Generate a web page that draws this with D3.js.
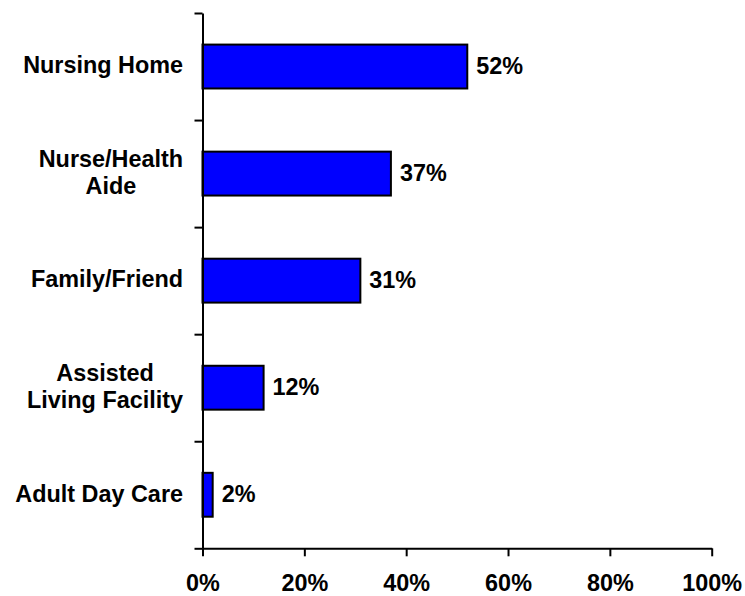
<!DOCTYPE html>
<html>
<head>
<meta charset="utf-8">
<script src="https://cdn.jsdelivr.net/npm/d3@7"></script>
<style>
  html, body { margin: 0; padding: 0; background: #fff; }
  svg { display: block; }
  text { font-family: "Liberation Sans", Arial, Helvetica, sans-serif; font-weight: bold; fill: #000; }
</style>
</head>
<body>
<svg id="chart" width="745" height="596"></svg>
<script>
// Care options, top to bottom
const categories = [
  ["Nursing Home"],
  ["Nurse/Health", "Aide"],
  ["Family/Friend"],
  ["Assisted", "Living Facility"],
  ["Adult Day Care"]
];
const values = [0.52, 0.37, 0.31, 0.12, 0.02];
const xTicks = [0, 0.2, 0.4, 0.6, 0.8, 1.0];

const W = 745, H = 596;
const margin = { top: 13, right: 33.3, bottom: 47.7, left: 202.5 };
const innerW = W - margin.left - margin.right;
const innerH = H - margin.top - margin.bottom;
const fontSize = 23.4;
const lineH = 26.7;

const svg = d3.select("#chart");
const g = svg.append("g").attr("transform", `translate(${margin.left},${margin.top})`);

const ids = d3.range(categories.length);
const x = d3.scaleLinear().domain([0, 1]).range([0, innerW]);
const y = d3.scaleBand().domain(ids).range([0, innerH]).paddingInner(0.59).paddingOuter(0.295);
const yEdge = d3.scaleLinear().domain([0, categories.length]).range([0, innerH]);

// Bars
g.selectAll("rect.bar")
  .data(ids)
  .join("rect")
  .attr("class", "bar")
  .attr("x", 0)
  .attr("y", i => y(i))
  .attr("width", i => x(values[i]))
  .attr("height", y.bandwidth())
  .attr("fill", "#0000ff")
  .attr("stroke", "#000")
  .attr("stroke-width", 2);

// Value labels
g.selectAll("text.val")
  .data(ids)
  .join("text")
  .attr("class", "val")
  .attr("x", i => x(values[i]) + 9)
  .attr("y", i => y(i) + y.bandwidth() / 2 + 7.2)
  .style("font-size", fontSize + "px")
  .text(i => d3.format(".0%")(values[i]));

// Y axis with ticks at band boundaries
const yAxis = g.append("g")
  .call(d3.axisLeft(yEdge).tickValues(d3.range(categories.length + 1)).tickFormat("").tickSize(8).tickSizeOuter(0));
yAxis.select(".domain").attr("stroke", "#000").attr("stroke-width", 2);
yAxis.selectAll(".tick line").attr("stroke", "#000").attr("stroke-width", 2);

// X axis
const xAxis = g.append("g")
  .attr("transform", `translate(0,${innerH})`)
  .call(d3.axisBottom(x).tickValues(xTicks).tickFormat(d3.format(".0%")).tickSize(8).tickSizeOuter(0));
xAxis.select(".domain").attr("stroke", "#000").attr("stroke-width", 2);
xAxis.selectAll(".tick line").attr("stroke", "#000").attr("stroke-width", 2);
xAxis.selectAll(".tick text")
  .attr("y", 42.5)
  .attr("dy", null)
  .style("font-size", fontSize + "px")
  .style("font-family", '"Liberation Sans", Arial, sans-serif')
  .style("font-weight", "bold")
  .attr("fill", "#000");

// Category labels: lines centred on each other, block right-aligned
const labelRight = -19.5;
ids.forEach(i => {
  const lines = categories[i];
  const cy = y(i) + y.bandwidth() / 2;
  const t = g.append("text")
    .attr("text-anchor", "middle")
    .style("font-size", fontSize + "px");
  lines.forEach((ln, k) => {
    t.append("tspan")
      .attr("x", 0)
      .attr("y", cy + 6.8 + (k - (lines.length - 1) / 2) * lineH)
      .text(ln);
  });
  const w = d3.max(t.selectAll("tspan").nodes(), n => n.getComputedTextLength());
  t.selectAll("tspan").attr("x", labelRight - w / 2);
});
</script>
</body>
</html>
